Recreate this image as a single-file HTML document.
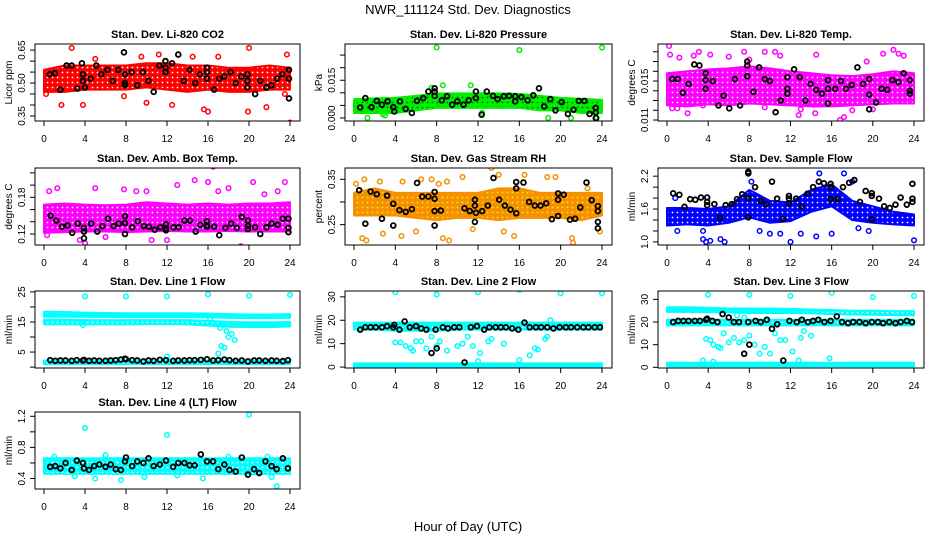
<!DOCTYPE html>
<html><head><meta charset="utf-8"><style>
html,body{margin:0;padding:0;background:#fff;}
svg{display:block;font-family:"Liberation Sans",sans-serif;}
</style></head><body>
<svg id="chart" width="936" height="540" viewBox="0 0 936 540" xmlns="http://www.w3.org/2000/svg">
<rect x="0" y="0" width="936" height="540" fill="#fff"/>
<text x="468" y="14" text-anchor="middle" font-size="13">NWR_111124 Std. Dev. Diagnostics</text>
<text x="468" y="531" text-anchor="middle" font-size="13">Hour of Day (UTC)</text>
</svg>
<script>
// ---- data ----
const xTicks = [0,4,8,12,16,20,24];
const bandHours = [0,2,4,6,8,10,12,14,16,18,20,22,24];
const lineHours = [0.6,1.1,1.6,2.1,2.7,3.2,3.8,3.9,4.4,4.9,5.4,6.0,6.5,7.0,7.5,7.9,8.0,8.6,9.1,9.7,10.2,10.7,11.3,11.9,12.6,13.1,13.7,14.2,14.7,15.3,15.9,16.5,17.0,17.6,18.1,18.7,19.3,19.9,20.5,21.0,21.6,22.2,22.7,23.3,23.8];

// P1 CO2
const co2Lo = [0.46,0.46,0.47,0.47,0.47,0.48,0.47,0.46,0.47,0.46,0.46,0.47,0.47];
const co2Hi = [0.56,0.58,0.58,0.58,0.58,0.59,0.59,0.58,0.58,0.57,0.57,0.58,0.57];
const co2Cx = [2.7,20,24,23.7,11.2,12.5,15.6,16,19.9,21.7,10,1.7,3.8,0.2,23.5,7.8,14.5,17,9.5,5];
const co2Cy = [0.66,0.66,0.32,0.63,0.63,0.40,0.38,0.37,0.37,0.39,0.41,0.40,0.40,0.45,0.45,0.44,0.62,0.62,0.62,0.61];
const co2Bx = [0.55,1.07,1.6,2.2,2.7,3.25,3.7,3.8,3.8,4,4.55,5.1,5.6,6.2,6.7,7.25,7.8,7.9,7.9,7.9,8.55,9.1,9.65,10.2,10.7,11.25,11.85,11.85,11.85,12.5,13.1,13.65,14.2,14.75,15.2,15.9,15.9,15.9,16.6,17.1,17.6,18.2,18.7,19.25,19.85,19.85,19.85,20.6,21.1,21.7,22.2,22.75,23.25,23.9,23.9,23.9];
const co2By = [0.54,0.545,0.47,0.58,0.58,0.475,0.59,0.54,0.51,0.48,0.52,0.58,0.54,0.56,0.51,0.56,0.64,0.54,0.50,0.49,0.55,0.49,0.55,0.51,0.46,0.58,0.60,0.57,0.55,0.59,0.63,0.51,0.56,0.50,0.54,0.57,0.55,0.52,0.47,0.52,0.53,0.55,0.50,0.53,0.54,0.51,0.48,0.45,0.51,0.48,0.49,0.52,0.54,0.56,0.52,0.43];

// P2 pressure
const prsLo = [0.002,0.002,0.002,0.003,0.004,0.004,0.004,0.004,0.004,0.003,0.003,0.002,0.002];
const prsHi = [0.0075,0.0078,0.008,0.0088,0.0098,0.0098,0.0098,0.0098,0.0096,0.0088,0.008,0.0076,0.0072];
const prsCx = [8,16,24,1.3,18.8,8.6,11.3,21,23.5,7.5,12.4,3,2.8];
const prsCy = [0.028,0.027,0.028,0.0,0.0,0.013,0.013,0.0,0.0,0.012,0.002,0.001,0.0015];
const prsBx = [1.1,1.7,2.2,2.7,3.25,3.8,3.9,4.45,5,5.6,6.1,6.7,7.2,7.8,7.8,7.8,8.5,9,9.5,10,10.6,11.1,11.8,11.8,12.35,12.85,13.45,13.9,14.5,15,15.6,15.6,16.2,16.8,17.35,17.9,18.4,19,19.5,20.1,20.7,21.25,21.75,22.3,22.8,23.4,23.4,23.4,0.6];
const prsBy = [0.0079,0.0043,0.0068,0.0053,0.0066,0.0043,0.0026,0.0066,0.0036,0.002,0.0068,0.0079,0.0105,0.0118,0.0105,0.0088,0.007,0.0086,0.0053,0.0066,0.0053,0.007,0.0105,0.0079,0.0013,0.0105,0.0088,0.0075,0.0086,0.0088,0.0086,0.0066,0.0083,0.007,0.009,0.0118,0.0046,0.0075,0.003,0.0063,0.0016,0.0033,0.0068,0.0068,0.0016,0.0022,0.004,0.0,0.0042];

// P3 Li-820 temp
const tmpLo = [0.0125,0.0124,0.0126,0.0125,0.0127,0.0126,0.0125,0.0124,0.0124,0.0125,0.0126,0.0127,0.0127];
const tmpHi = [0.0158,0.0160,0.0162,0.0163,0.0165,0.0163,0.0160,0.0158,0.0156,0.0155,0.0157,0.0160,0.0158];
const tmpCx = [0.2,0.3,1.2,2.6,3.1,4.2,6,7.5,9.5,10.5,11,14.5,22,22.5,23,21,2,3.5,12.8,14.4,16.8,17.2,18,9.5,19.4,0.5,1,8,13,20];
const tmpCy = [0.0186,0.0177,0.0174,0.0176,0.0180,0.0177,0.0175,0.0180,0.0180,0.0180,0.0176,0.0177,0.0182,0.0178,0.0176,0.0178,0.0117,0.0125,0.0115,0.0117,0.0110,0.0113,0.0120,0.0123,0.0170,0.0122,0.0122,0.0172,0.0121,0.0121];
const tmpBx = [0.5,1.05,1.55,2.1,2.65,3.15,3.75,3.75,3.75,4.45,5,5.5,6.05,6.6,7.1,7.8,7.8,7.8,8.4,8.95,9.5,10,10.55,11.05,11.7,11.7,11.7,12.35,12.9,13.45,13.95,14.5,15.05,15.65,15.65,15.65,16.35,16.9,17.4,17.95,18.5,19.05,19.65,19.65,19.65,20.3,20.85,21.4,21.9,22.5,23,23.6,23.6,23.6];
const tmpBy = [0.0152,0.0152,0.0138,0.0147,0.0167,0.0166,0.0158,0.0151,0.0142,0.0150,0.0125,0.0135,0.0122,0.0152,0.0125,0.0170,0.0166,0.0155,0.0139,0.0164,0.0152,0.0150,0.0118,0.0130,0.0154,0.0142,0.0137,0.0162,0.0154,0.0130,0.0147,0.0141,0.0137,0.0151,0.0142,0.0127,0.0142,0.0150,0.0142,0.0146,0.0164,0.0147,0.0152,0.0136,0.0121,0.0128,0.0142,0.0141,0.0151,0.0149,0.0158,0.0151,0.0140,0.0137];

// P4 amb box temp
const ambLo = [0.122,0.123,0.124,0.124,0.123,0.124,0.125,0.124,0.124,0.125,0.124,0.124,0.124];
const ambHi = [0.168,0.170,0.168,0.167,0.168,0.172,0.170,0.168,0.170,0.168,0.170,0.170,0.172];
const ambCx = [0.5,1.3,5,7.8,9,10,13,14.7,16,16.5,17,18,20.4,23.5,19.2,4,10.5,12,0.3,3.5,6,22.8,21.5];
const ambCy = [0.19,0.195,0.195,0.193,0.19,0.19,0.2,0.208,0.205,0.23,0.19,0.195,0.205,0.205,0.10,0.105,0.11,0.11,0.118,0.11,0.115,0.19,0.185];
const ambBx = [0.65,1.2,1.75,2.3,2.75,3.3,3.9,3.9,3.9,4.6,5.2,5.7,6.25,6.8,7.3,7.9,7.9,7.9,8.6,9.15,9.75,10.25,10.8,11.35,11.9,11.9,11.9,12.65,13.15,13.7,14.25,14.8,15.25,15.9,15.9,15.9,16.6,17.1,17.7,18.25,18.8,19.3,19.9,19.9,19.9,20.6,21.1,21.7,22.2,22.8,23.3,23.85,23.85,23.85];
const ambBy = [0.150,0.142,0.132,0.134,0.122,0.137,0.130,0.124,0.113,0.137,0.124,0.133,0.145,0.133,0.137,0.149,0.138,0.12,0.131,0.141,0.133,0.132,0.127,0.131,0.136,0.126,0.129,0.131,0.131,0.142,0.142,0.124,0.135,0.141,0.132,0.134,0.132,0.118,0.130,0.137,0.130,0.148,0.142,0.128,0.133,0.131,0.12,0.131,0.137,0.135,0.145,0.145,0.130,0.123];

// P5 gas stream RH
const rhLo = [0.27,0.27,0.27,0.265,0.26,0.265,0.265,0.26,0.265,0.265,0.265,0.26,0.27];
const rhHi = [0.32,0.33,0.32,0.32,0.32,0.32,0.32,0.33,0.33,0.32,0.32,0.32,0.32];
const rhCx = [0.2,1,2.5,4.7,6.5,7.5,8.2,9,10.5,13.3,14,16.5,18.7,19.5,22.6,0.8,1.2,2.8,4.6,8.6,9.2,14.5,15.5,21.1,21.2,23.8,11.5,6];
const rhCy = [0.34,0.35,0.345,0.345,0.35,0.35,0.34,0.345,0.355,0.375,0.36,0.36,0.355,0.355,0.33,0.22,0.215,0.23,0.225,0.22,0.215,0.235,0.225,0.22,0.21,0.235,0.24,0.235];
const rhBx = [0.5,1.1,1.6,2.2,2.7,3.2,3.8,3.8,4.4,5,5.6,6.1,6.6,7.2,7.8,7.8,7.8,7.8,8.4,10.7,11.2,11.7,11.7,11.7,11.8,12.4,12.95,13.5,14.05,14.6,15.15,15.7,15.7,15.7,16.4,16.95,17.5,18.05,18.6,19.15,19.75,19.75,19.75,20.3,20.9,21.4,21.9,22.5,23,23.6,23.6,23.6,23.6];
const rhBy = [0.326,0.252,0.323,0.317,0.263,0.314,0.296,0.248,0.282,0.278,0.284,0.342,0.312,0.312,0.322,0.307,0.28,0.248,0.281,0.286,0.28,0.305,0.292,0.256,0.276,0.28,0.292,0.353,0.305,0.292,0.283,0.344,0.330,0.275,0.343,0.30,0.292,0.292,0.297,0.262,0.319,0.305,0.269,0.316,0.261,0.263,0.288,0.343,0.304,0.291,0.280,0.256,0.242];

// P6 sample flow
const sfLo = [1.30,1.32,1.30,1.35,1.45,1.35,1.38,1.55,1.65,1.40,1.35,1.32,1.30];
const sfHi = [1.62,1.62,1.60,1.65,1.95,1.75,1.72,1.95,2.05,1.75,1.65,1.55,1.50];
const sfCx = [3.5,3.8,4.2,5.2,5.6,12,14.5,16,24,9,10,11,3.5,1,14.8,17.2,8.2,18,0.8,13,18.6,19.6];
const sfCy = [1.05,1.0,1.02,1.05,1.0,1.0,1.1,1.15,1.03,1.2,1.15,1.15,1.2,1.2,2.25,2.25,2.1,2.1,1.8,1.15,1.25,1.2];
const sfBx = [0.6,1.2,1.7,2.25,2.75,3.3,3.9,3.9,3.9,4.6,5.15,5.7,6.3,6.8,7.3,7.9,7.9,7.9,7.9,8.55,9.1,9.65,10.2,10.7,11.25,11.85,11.85,11.85,12.55,13.1,13.65,14.2,14.75,15.25,15.9,15.9,15.9,16.6,17.1,17.7,18.2,18.75,19.3,19.9,19.9,19.9,20.6,21.1,21.65,22.2,22.7,23.3,23.85,23.85,23.85];
const sfBy = [1.887,1.86,1.64,1.78,1.77,1.81,1.81,1.73,1.67,1.69,1.44,1.67,1.69,1.78,1.87,2.28,2.25,1.79,1.45,2.0,1.75,1.69,2.1,1.79,1.42,1.84,1.79,1.70,1.79,1.65,1.88,2.0,2.1,2.07,2.06,2.0,1.78,1.78,2.0,2.08,2.13,1.73,1.93,1.89,1.84,1.41,1.79,1.65,1.62,1.68,1.81,1.68,2.06,1.79,1.73];

// P7 line 1 flow
const l1aLo = [16.8,16.8,16.7,16.7,16.6,16.6,16.6,16.6,16.5,16.4,16.3,16.3,16.4];
const l1aHi = [18.4,18.3,18.1,18.0,17.9,17.9,17.9,17.9,17.8,17.6,17.5,17.5,17.6];
const l1bLo = [14.2,14.2,14.2,14.2,14.2,14.3,14.3,14.2,13.8,13.4,13.3,13.3,13.5];
const l1bHi = [15.8,15.8,15.6,15.6,15.6,15.6,15.6,15.6,15.4,15.0,14.9,14.9,15.0];
const l1cLo = [1.0,1.0,1.0,1.0,1.0,1.0,1.0,1.0,1.0,1.0,1.0,1.0,1.0];
const l1cHi = [2.2,2.2,2.2,2.2,2.2,2.2,2.2,2.2,2.2,2.2,2.2,2.2,2.2];
const l1Cx = [4,8,12,16,20,24,17,17.3,17.6,17.2,17.5,17.8,18,18.3,18.6,12,16.2,3.8];
const l1Cy = [23.5,23.5,23.5,24.2,23.7,24,4.5,7,6.5,13,14,12,10,11,9,3.5,16,14];
const l1By = [2.3,2.1,2.2,2.2,2.1,2.3,2.2,2.4,2.1,2.2,2.1,2.1,2.2,2.3,2.5,2.8,2.6,2.3,2.2,1.9,2.2,2.1,2.4,2.3,2.1,2.2,2.2,2.3,2.3,2.4,2.6,2.2,2.3,2.5,2.3,2.1,2.2,1.9,2.2,2.2,2.1,2.2,2.1,2.0,2.3];

// P8 line 2 flow
const l2aLo = [16,16,15.5,15.5,15.5,16,16,16,16,16,16,16,16];
const l2aHi = [19,19,19,19,19,19,19,19,19,19,19,19,19];
const l2bLo = [0.2,0.2,0.2,0.2,0.2,0.2,0.2,0.2,0.2,0.2,0.2,0.2,0.2];
const l2bHi = [1.6,1.6,1.6,1.6,1.6,1.6,1.6,1.6,1.6,1.6,1.6,1.6,1.6];
const l2Cx = [4,12,16,8,20,24,4,4.5,5,5.5,5.7,6,6.5,7,7.5,8,8.3,9,10,10.5,11,11.5,12.2,13,13.3,14.5,17,17.5,17.8,18.5,19,18.7,16,12];
const l2Cy = [32,32,33,31,31.5,31.5,10.5,10.5,9,8,7,11,11,8,13,9,11,7,9,10,13,9,6,11,12,10,5,8,7.5,12,20,13,3,2.5];
const l2By = [16,17,17,17,17,17.5,17,18,16,19.5,17,17.5,16.5,16,6,16,8,17,16.5,17,17,2,17,17.5,16,17,17,17,17,16.5,16,19,17,17,17,17,16.5,17,17,17,17,17,17,17,17];

// P9 line 3 flow
const l3aLo = [24.5,24.5,24.3,24.3,24,24,24,23.8,23.5,23.3,23.2,23,23];
const l3aHi = [26.5,26.5,26.3,26,26,26,25.8,25.5,25.3,25,25,24.8,24.8];
const l3bLo = [18.5,18.5,18.5,18.5,18.5,18.5,18.5,18.5,18.5,18.5,18.5,18.5,18.5];
const l3bHi = [21,21,21,21,21,21,21,21,21,21,21,21,21];
const l3cLo = [0.5,0.5,0.5,0.5,0.5,0.5,0.5,0.5,0.5,0.5,0.5,0.5,0.5];
const l3cHi = [2,2,2,2,2,2,2,2,2,2,2,2,2];
const l3Cx = [4,8,12,16,20,24,3.8,4.2,4.5,5,5.2,5.5,6,6.5,7,7.5,8,8.5,9,9.5,10,10.5,11,11.5,12.2,13,13.3,14,6.8,7.5,3.5,12.8,15.8,4.5];
const l3Cy = [32,32,31.5,33,31,31.5,12.5,12,10,9,8.5,15,11,13,11,12,14,10,6,9,6,15,12,12,7,13,16,14,23,22,3,3,4,2.5];
const l3By = [20,20.5,20.5,20.5,20.5,20.5,21,21.5,20.5,20,23.5,22,20,20,6,20,10,20.5,20,21,17,19,3,20.5,20,21,20,20.5,21,20,20.5,22.5,20,19.5,20,20,19.5,20,20,19.5,20,19.5,20,20.5,20];

// P10 line 4 flow
const l4Lo = [0.46,0.46,0.46,0.46,0.46,0.46,0.46,0.46,0.46,0.46,0.46,0.46,0.46];
const l4Hi = [0.66,0.66,0.66,0.66,0.66,0.66,0.66,0.66,0.66,0.66,0.66,0.66,0.66];
const l4Cx = [4,12,20,22.7,7.5,5,6,1,18,21.8,22.2,15.5,9.8,0.2,3,13];
const l4Cy = [1.05,0.96,1.22,0.3,0.38,0.4,0.7,0.68,0.68,0.68,0.42,0.4,0.42,0.6,0.43,0.44];
const l4By = [0.55,0.56,0.53,0.6,0.51,0.63,0.6,0.53,0.51,0.56,0.58,0.55,0.58,0.52,0.51,0.62,0.67,0.56,0.62,0.6,0.66,0.56,0.58,0.63,0.55,0.6,0.6,0.57,0.57,0.71,0.62,0.62,0.52,0.58,0.51,0.49,0.67,0.45,0.52,0.47,0.62,0.56,0.52,0.66,0.53];

// ---- layout (not data) ----
const colL = [35,345,658], colR = [300,612,924];
const rowT = [44,168,291,412], boxH = 77;

const panels = [
 {id:'co2',title:'Stan. Dev. Li-820 CO2',ylab:'Licor ppm',c:0,r:0,ymin:0.327,ymax:0.678,ticks:[0.35,0.40,0.45,0.50,0.55,0.60,0.65],labs:['0.35','','','0.50','','','0.65'],color:'#ff0000',dot:'#ffffff',bands:[[co2Lo,co2Hi]],cx:co2Cx,cy:co2Cy,bx:co2Bx,by:co2By},
 {id:'pressure',title:'Stan. Dev. Li-820 Pressure',ylab:'kPa',c:1,r:0,ymin:-0.0012,ymax:0.0294,ticks:[0,0.005,0.01,0.015,0.02,0.025],labs:['0.000','','','0.015','',''],color:'#00ee00',dot:'#006600',bands:[[prsLo,prsHi]],cx:prsCx,cy:prsCy,bx:prsBx,by:prsBy},
 {id:'li820-temp',title:'Stan. Dev. Li-820 Temp.',ylab:'degrees C',c:2,r:0,ymin:0.0109,ymax:0.0188,ticks:[0.011,0.012,0.013,0.014,0.015,0.016,0.017,0.018],labs:['0.011','','','','0.015','','',''],color:'#ff00ff',dot:'#ffffff',bands:[[tmpLo,tmpHi]],cx:tmpCx,cy:tmpCy,bx:tmpBx,by:tmpBy},
 {id:'amb-box-temp',title:'Stan. Dev. Amb. Box Temp.',ylab:'degrees C',c:0,r:1,ymin:0.102,ymax:0.228,ticks:[0.12,0.14,0.16,0.18,0.20,0.22],labs:['0.12','','','0.18','',''],color:'#ff00ff',dot:'#ffffff',bands:[[ambLo,ambHi]],cx:ambCx,cy:ambCy,bx:ambBx,by:ambBy},
 {id:'gas-rh',title:'Stan. Dev. Gas Stream RH',ylab:'percent',c:1,r:1,ymin:0.205,ymax:0.375,ticks:[0.25,0.30,0.35],labs:['0.25','','0.35'],color:'#f59000',dot:'#ffee00',bands:[[rhLo,rhHi]],cx:rhCx,cy:rhCy,bx:rhBx,by:rhBy},
 {id:'sample-flow',title:'Stan. Dev. Sample Flow',ylab:'ml/min',c:2,r:1,ymin:0.944,ymax:2.349,ticks:[1.0,1.2,1.4,1.6,1.8,2.0,2.2],labs:['1.0','','','1.6','','','2.2'],color:'#0000ff',dot:'#ffffff',bands:[[sfLo,sfHi]],cx:sfCx,cy:sfCy,bx:sfBx,by:sfBy},
 {id:'line1',title:'Stan. Dev. Line 1 Flow',ylab:'ml/min',c:0,r:2,ymin:-0.3,ymax:25.3,ticks:[0,5,10,15,20,25],labs:['','5','','15','','25'],color:'#00ffff',dot:'#ffffff',bands:[[l1aLo,l1aHi],[l1bLo,l1bHi],[l1cLo,l1cHi]],cx:l1Cx,cy:l1Cy,bx:lineHours,by:l1By},
 {id:'line2',title:'Stan. Dev. Line 2 Flow',ylab:'ml/min',c:1,r:2,ymin:-0.4,ymax:32.5,ticks:[0,10,20,30],labs:['0','10','20','30'],color:'#00ffff',dot:'#ffffff',bands:[[l2aLo,l2aHi],[l2bLo,l2bHi]],cx:l2Cx,cy:l2Cy,bx:lineHours,by:l2By},
 {id:'line3',title:'Stan. Dev. Line 3 Flow',ylab:'ml/min',c:2,r:2,ymin:-0.3,ymax:33.7,ticks:[0,10,20,30],labs:['0','10','20','30'],color:'#00ffff',dot:'#ffffff',bands:[[l3aLo,l3aHi],[l3bLo,l3bHi],[l3cLo,l3cHi]],cx:l3Cx,cy:l3Cy,bx:lineHours,by:l3By},
 {id:'line4',title:'Stan. Dev. Line 4 (LT) Flow',ylab:'ml/min',c:0,r:3,ymin:0.265,ymax:1.255,ticks:[0.4,0.6,0.8,1.0,1.2],labs:['0.4','','0.8','','1.2'],color:'#00ffff',dot:'#ffffff',bands:[[l4Lo,l4Hi]],cx:l4Cx,cy:l4Cy,bx:lineHours,by:l4By}
];

const NS = 'http://www.w3.org/2000/svg';
const svg = document.getElementById('chart');
function mk(tag, attrs, parent){
  const e = document.createElementNS(NS, tag);
  for (const k in attrs) e.setAttribute(k, attrs[k]);
  parent.appendChild(e);
  return e;
}
const defs = mk('defs', {}, svg);

panels.forEach(p => {
  const L = colL[p.c], R = colR[p.c], T = rowT[p.r], B = T + boxH;
  const xs = h => L + 9 + h / 24 * (R - L - 19);
  const ys = v => B - (v - p.ymin) / (p.ymax - p.ymin) * (B - T);
  const g = mk('g', {}, svg);
  
  

  // speckle texture for dense point clouds
  const patId = 'pat-' + p.id;
  const pat = mk('pattern', {id: patId, width: 5, height: 5, patternUnits: 'userSpaceOnUse'}, defs);
  mk('rect', {x: 0, y: 0, width: 5, height: 5, fill: p.color}, pat);
  mk('circle', {cx: 2.5, cy: 2.5, r: 0.9, fill: p.dot}, pat);

  const clipId = 'clip-' + p.id;
  const cp = mk('clipPath', {id: clipId}, g);
  mk('rect', {x: L, y: T, width: R - L, height: B - T}, cp);
  const plot = mk('g', {'clip-path': 'url(#' + clipId + ')'}, g);
  
  

  p.bands.forEach((bd, bi) => {
    const lo = bd[0], hi = bd[1];
    let pts = bandHours.map((h, i) => xs(h) + ',' + ys(hi[i]));
    pts = pts.concat(bandHours.slice().reverse().map((h, j) => xs(h) + ',' + ys(lo[bandHours.length - 1 - j])));
    const poly = mk('polygon', {points: pts.join(' '), fill: 'url(#' + patId + ')', stroke: p.color, 'stroke-width': 2, 'stroke-linejoin': 'round'}, plot);
    
    
  });
  p.cx.forEach((h, i) => {
    const c = mk('circle', {cx: xs(h), cy: ys(p.cy[i]), r: 2.3, fill: 'none', stroke: p.color, 'stroke-width': 1.5}, plot);
    
    
  });
  p.bx.forEach((h, i) => {
    const c = mk('circle', {cx: xs(h), cy: ys(p.by[i]), r: 2.4, fill: 'none', stroke: '#000', 'stroke-width': 1.8}, plot);
    
    
  });

  const box = mk('rect', {x: L, y: T, width: R - L, height: B - T, fill: 'none', stroke: '#000', 'stroke-width': 1}, g);
  
  

  const t = mk('text', {x: (L + R) / 2, y: T - 6, 'text-anchor': 'middle', 'font-size': 11, 'font-weight': 'bold'}, g);
  t.textContent = p.title;
  
  

  const xa = mk('g', {}, g);
  
  
  mk('line', {x1: xs(0), x2: xs(24), y1: B, y2: B, stroke: '#000'}, xa);
  xTicks.forEach(v => {
    mk('line', {x1: xs(v), x2: xs(v), y1: B, y2: B + 5, stroke: '#000'}, xa);
    const tl = mk('text', {x: xs(v), y: B + 21, 'text-anchor': 'middle', 'font-size': 10}, xa);
    tl.textContent = v;
    
    
  });
  const ya = mk('g', {}, g);
  
  
  const tk = p.ticks;
  mk('line', {x1: L, x2: L, y1: ys(tk[0]), y2: ys(tk[tk.length - 1]), stroke: '#000'}, ya);
  tk.forEach((v, i) => {
    mk('line', {x1: L - 5, x2: L, y1: ys(v), y2: ys(v), stroke: '#000'}, ya);
    if (p.labs[i]) {
      const yy = ys(v);
      const tl = mk('text', {x: L - 10, y: yy, 'text-anchor': 'middle', 'font-size': 10, transform: 'rotate(-90 ' + (L - 10) + ' ' + yy + ')'}, ya);
      tl.textContent = p.labs[i];
      
      
    }
  });
  const yl = (T + B) / 2, xl = L - 23;
  const yt = mk('text', {x: xl, y: yl, 'text-anchor': 'middle', 'font-size': 10, transform: 'rotate(-90 ' + xl + ' ' + yl + ')'}, g);
  yt.textContent = p.ylab;
  
  
});
</script>
</body></html>
